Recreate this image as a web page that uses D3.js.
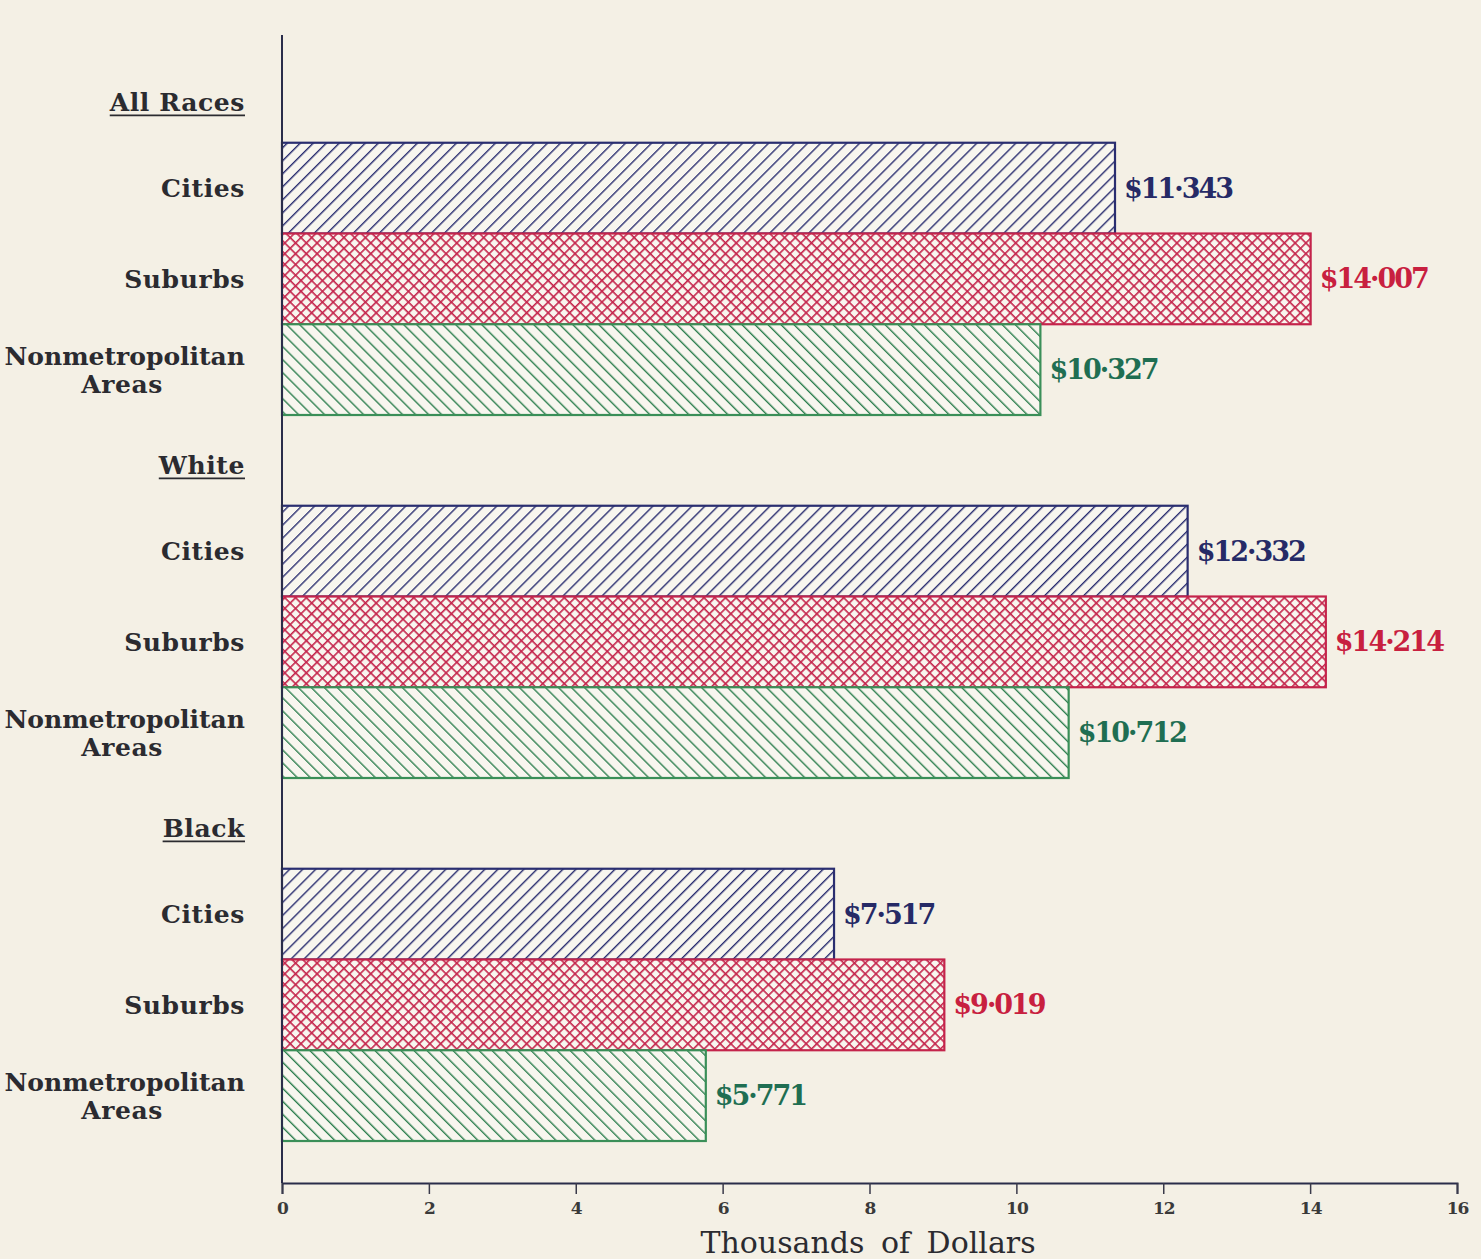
<!DOCTYPE html>
<html>
<head>
<meta charset="utf-8">
<script src="https://cdn.jsdelivr.net/npm/d3@7"></script>
<style>
  body { margin: 0; background: #f4f0e5; }
  svg { display: block; }
</style>
</head>
<body>
<div class="chart-box"></div>
<script>
// data
let groups = ["All Races", "White", "Black"];
let areas = ["Cities", "Suburbs", "Nonmetropolitan Areas"];
let cities = [11.343, 12.332, 7.517];
let suburbs = [14.007, 14.214, 9.019];
let nonmetro = [10.327, 10.712, 5.771];
let ticks = [0, 2, 4, 6, 8, 10, 12, 14, 16];

let width = 1481, height = 1259;
let bg = "#f4f0e5";

let svg = d3.select(".chart-box")
  .append("svg")
  .attr("width", width)
  .attr("height", height)
  .style("background", bg)

let x = d3.scaleLinear().domain([0, 16]).range([282, 1457]);

// one row per header + 3 bars per group
let rows = [];
groups.forEach(function (g) {
  rows.push(g + "|head");
  areas.forEach(function (a) { rows.push(g + "|" + a); });
});
let y = d3.scaleBand().domain(rows).range([52, 1141]).padding(0);

let styles = {
  "Cities": { stroke: "#2a2e70", text: "#262a66", pat: "hatchBlue" },
  "Suburbs": { stroke: "#c4244b", text: "#c8203f", pat: "crossRed" },
  "Nonmetropolitan Areas": { stroke: "#3a8f58", text: "#1f6e52", pat: "hatchGreen" }
};

// patterns
let defs = svg.append("defs");
function hatch(id, color, angle, size, sw) {
  let p = defs.append("pattern")
    .attr("id", id)
    .attr("patternUnits", "userSpaceOnUse")
    .attr("width", size).attr("height", size)
    .attr("patternTransform", "rotate(" + angle + ")");
  p.append("rect").attr("width", size).attr("height", size).attr("fill", "#f8f6ef");
  p.append("line").attr("x1", 0).attr("y1", 0).attr("x2", 0).attr("y2", size)
    .attr("stroke", color).attr("stroke-width", sw);
  return p;
}
hatch("hatchBlue", "#2a2e70", 45, 9.2, 2.8);
hatch("hatchGreen", "#2f8050", -45, 9.2, 2.8);
let cr = hatch("crossRed", "#c4244b", 45, 7.6, 3.2);
cr.append("line").attr("x1", 0).attr("y1", 0).attr("x2", 7.6).attr("y2", 0)
  .attr("stroke", "#c4244b").attr("stroke-width", 3.2);

let bars = [];
groups.forEach(function (g, i) {
  bars.push({ group: g, area: "Cities", value: cities[i] });
  bars.push({ group: g, area: "Suburbs", value: suburbs[i] });
  bars.push({ group: g, area: "Nonmetropolitan Areas", value: nonmetro[i] });
});

//bars
svg.append("g")
  .selectAll("rect")
  .data(bars)
  .enter()
  .append("rect")
  .attr("x", x(0))
  .attr("y", function (d) { return y(d.group + "|" + d.area); })
  .attr("width", function (d) { return x(d.value) - x(0); })
  .attr("height", y.bandwidth())
  .attr("fill", function (d) { return "url(#" + styles[d.area].pat + ")"; })
  .attr("stroke", function (d) { return styles[d.area].stroke; })
  .attr("stroke-width", 2.2)

//value labels
svg.append("g")
  .selectAll("text")
  .data(bars)
  .enter()
  .append("text")
  .attr("x", function (d) { return x(d.value) + 9; })
  .attr("y", function (d) { return y(d.group + "|" + d.area) + y.bandwidth() / 2; })
  .attr("dy", "0.35em")
  .attr("fill", function (d) { return styles[d.area].text; })
  .style("font-family", "'DejaVu Serif', serif")
  .style("font-weight", "bold")
  .style("font-size", "27px")
  .style("letter-spacing", "-2px")
  .text(function (d) { return "$" + d3.format(".3f")(d.value).replace(".", "·"); })

//row labels
let labelFont = function (sel) {
  sel.style("font-family", "'DejaVu Serif', serif")
    .style("font-weight", "bold")
    .style("font-size", "25px")
    .style("letter-spacing", "0.6px")
    .attr("fill", "#2b2b30")
    .attr("text-anchor", "end");
};
let lab = svg.append("g");
bars.forEach(function (d) {
  let cy = y(d.group + "|" + d.area) + y.bandwidth() / 2;
  if (d.area === "Nonmetropolitan Areas") {
    lab.append("text").attr("x", 245).attr("y", cy - 13).attr("dy", "0.35em")
      .call(labelFont).style("letter-spacing", "0px").text("Nonmetropolitan");
    lab.append("text").attr("x", 163).attr("y", cy + 15).attr("dy", "0.35em")
      .call(labelFont).text("Areas");
  } else {
    lab.append("text").attr("x", 245).attr("y", cy).attr("dy", "0.35em")
      .call(labelFont).text(d.area);
  }
});

//group headers, underlined
groups.forEach(function (g) {
  let cy = y(g + "|head") + y.bandwidth() / 2 + 5;
  let t = lab.append("text").attr("x", 245).attr("y", cy).attr("dy", "0.35em")
    .call(labelFont).text(g);
  let w = t.node().getComputedTextLength();
  lab.append("line").attr("x1", 245 - w).attr("x2", 245)
    .attr("y1", cy + 13).attr("y2", cy + 13)
    .attr("stroke", "#2b2b30").attr("stroke-width", 1.6);
});

//axes
svg.append("line")
  .attr("x1", x(0)).attr("x2", x(0)).attr("y1", 35).attr("y2", 1183)
  .attr("stroke", "#2a2d4a").attr("stroke-width", 2)

let xAxis = svg.append("g")
  .attr("transform", "translate(0,1183)")
  .call(d3.axisBottom(x).tickValues(ticks).tickSize(11).tickPadding(8).tickFormat(d3.format("d")))
xAxis.select(".domain").attr("stroke", "#2a2d4a").attr("stroke-width", 2)
xAxis.selectAll(".tick line").attr("stroke", "#3a3a4a").attr("stroke-width", 1.5)
xAxis.selectAll(".tick text")
  .attr("fill", "#3a3a3a")
  .style("font-family", "'DejaVu Serif', serif")
  .style("font-weight", "bold")
  .style("font-size", "17px")
  .style("letter-spacing", "-1px")

svg.append("text")
  .attr("x", 868).attr("y", 1242)
  .attr("dy", "0.35em")
  .attr("text-anchor", "middle")
  .attr("fill", "#2b2b30")
  .style("font-family", "'DejaVu Serif', serif")
  .style("font-size", "30px")
  .style("word-spacing", "7px")
  .text("Thousands of Dollars")
</script>
</body>
</html>
